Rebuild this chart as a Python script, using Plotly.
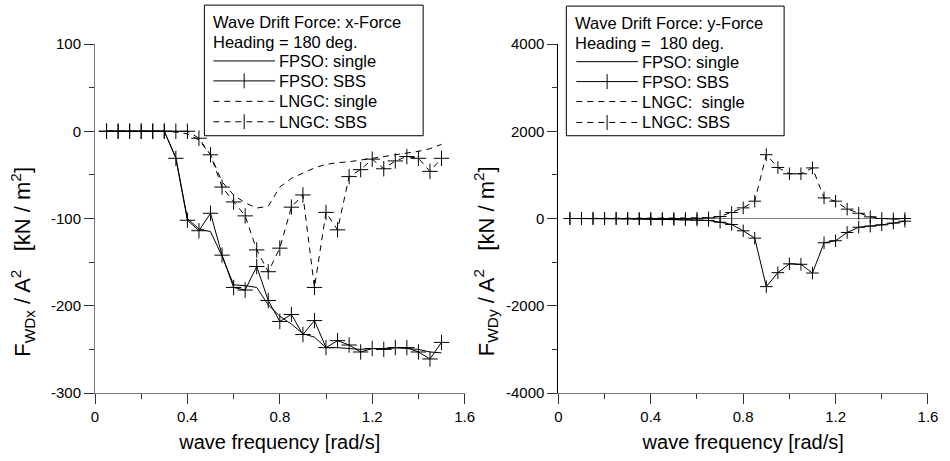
import plotly.graph_objects as go

# ---------------- data ----------------
freq = [0.05, 0.10, 0.15, 0.20, 0.25, 0.30, 0.35, 0.40, 0.45, 0.50,
        0.55, 0.60, 0.65, 0.70, 0.75, 0.80, 0.85, 0.90, 0.95, 1.00,
        1.05, 1.10, 1.15, 1.20, 1.25, 1.30, 1.35, 1.40, 1.45, 1.50]

# x-force [kN/m^2]
fx_fpso_single = [0, 0, 0, 0, 0, 0, -30, -100, -112, -115,
                  -143, -176, -177, -179, -199, -212, -221, -232, -236, -248,
                  -248, -249, -250, -249, -249, -248, -249, -250, -253, -254]
fx_fpso_sbs = [0, 0, 0, 0, 0, 0, -31, -102, -114, -94,
               -142, -179, -182, -155, -194, -218, -210, -233, -217, -248,
               -240, -245, -253, -249, -250, -248, -248, -253, -261, -242]
fx_lngc_single = [0, 0, 0, 0, 0, 0, -1, -3, -10, -27,
                  -58, -73, -82, -88, -86, -64, -54, -48, -42, -38,
                  -36, -35, -33, -31, -29, -27, -25, -23, -20, -15]
fx_lngc_sbs = [0, 0, 0, 0, 0, 0, 0, 0, -8, -27,
               -64, -81, -97, -136, -161, -134, -87, -73, -179, -93,
               -113, -52, -44, -32, -43, -34, -29, -31, -46, -31]

# y-force [kN/m^2]
fy_fpso_single = [0] * 30
fy_lngc_single = [0] * 30
fy_fpso_sbs = [0, 0, 0, 0, 0, -5, -10, -15, -20, -25,
               -30, -35, -45, -85, -137, -282, -450, -1562, -1242, -1040,
               -1050, -1250, -556, -510, -320, -200, -175, -145, -105, -61]
fy_lngc_sbs = [0, 0, 0, 0, 0, 0, 0, 0, 0, 0,
               0, 5, 15, 45, 137, 244, 397, 1463, 1170, 1025,
               1025, 1160, 472, 397, 215, 120, 38, 0, -10, 0]

x_tickvals = [0, 0.4, 0.8, 1.2, 1.6]
x_ticktext = ["0", "0.4", "0.8", "1.2", "1.6"]
yx_tickvals = [100, 0, -100, -200, -300]
yx_ticktext = ["100", "0", "-100", "-200", "-300"]
yy_tickvals = [4000, 2000, 0, -2000, -4000]
yy_ticktext = ["4000", "2000", "0", "-2000", "-4000"]

x_title = "wave frequency [rad/s]"
yx_title = "F<sub>WDx</sub> / A<sup>2</sup>&nbsp;&nbsp; [kN / m<sup>2</sup>]"
yy_title = "F<sub>WDy</sub> / A<sup>2</sup>&nbsp;&nbsp; [kN / m<sup>2</sup>]"

legend_titles_x = ["Wave Drift Force: x-Force", "Heading = 180 deg."]
legend_titles_y = ["Wave Drift Force: y-Force", "Heading =&nbsp; 180 deg."]
series_names_x = ["FPSO: single", "FPSO: SBS", "LNGC: single", "LNGC: SBS"]
series_names_y = ["FPSO: single", "FPSO: SBS", "LNGC:&nbsp; single", "LNGC: SBS"]

# ---------------- layout geometry ----------------
W_FIG, H_FIG = 950, 461
L, R, T, B = 95, 932.7, 44, 394
PW, PH = R - L, B - T
FONT = "Arial, Liberation Sans, sans-serif"
DASH = "6px,5px"


def pxx(px):
    return (px - L) / PW


def pyy(py):
    return (B - py) / PH


fig = go.Figure()

styles = [
    dict(dash="solid", markers=False),
    dict(dash="solid", markers=True),
    dict(dash=DASH, markers=False),
    dict(dash=DASH, markers=True),
]

left_series = [fx_fpso_single, fx_fpso_sbs, fx_lngc_single, fx_lngc_sbs]
right_series = [fy_fpso_single, fy_fpso_sbs, fy_lngc_single, fy_lngc_sbs]

for name, ys, st in zip(series_names_x, left_series, styles):
    fig.add_trace(go.Scatter(
        x=freq, y=ys, name=name, xaxis="x", yaxis="y",
        mode="lines+markers" if st["markers"] else "lines",
        line=dict(color="black", width=1, dash=st["dash"]),
        marker=dict(symbol="cross-thin", size=11, line=dict(color="black", width=1)),
        showlegend=False, hoverinfo="x+y"))

for name, ys, st in zip(series_names_y, right_series, styles):
    col = "black" if st["markers"] else "#808080"
    fig.add_trace(go.Scatter(
        x=freq, y=ys, name=name, xaxis="x2", yaxis="y2",
        mode="lines+markers" if st["markers"] else "lines",
        line=dict(color=col, width=1, dash=st["dash"] if st["markers"] else "solid"),
        marker=dict(symbol="cross-thin", size=9, line=dict(color="black", width=1)),
        showlegend=False, hoverinfo="x+y"))

tickfont = dict(family=FONT, size=15, color="black")
titlefont = dict(family=FONT, size=20, color="black")
ytitlefont = dict(family=FONT, size=22, color="black")

common_x = dict(range=[0, 1.6], tickvals=x_tickvals, ticktext=x_ticktext,
                ticks="outside", ticklen=10, tickwidth=1, tickcolor="#333",
                minor=dict(tickvals=[0.2, 0.6, 1.0, 1.4], ticks="outside", ticklen=5,
                           tickcolor="#333", tickwidth=1),
                showline=True, linewidth=1, showgrid=False, zeroline=False,
                tickfont=tickfont, fixedrange=True)

fig.update_layout(
    width=W_FIG, height=H_FIG,
    margin=dict(l=L, r=W_FIG - R, t=T, b=H_FIG - B),
    paper_bgcolor="white", plot_bgcolor="white",
    showlegend=False,
    xaxis=dict(domain=[0, (466.7 - L) / PW], anchor="y", linecolor="#777",
               title=dict(text=x_title, font=titlefont, standoff=10),
               **common_x),
    xaxis2=dict(domain=[(561 - L) / PW, 1], anchor="y2", linecolor="#777",
                title=dict(text=x_title, font=titlefont, standoff=10),
                **common_x),
    yaxis=dict(domain=[0, 1], anchor="x", range=[-300, 100],
               tickvals=yx_tickvals, ticktext=yx_ticktext,
               ticks="outside", ticklen=10, tickwidth=1, tickcolor="#333",
               minor=dict(tickvals=[50, -50, -150, -250], ticks="outside", ticklen=5,
                          tickcolor="#333", tickwidth=1),
               showline=True, linewidth=1, linecolor="#777", showgrid=False, zeroline=False,
               tickfont=tickfont, fixedrange=True),
    yaxis2=dict(domain=[0, 1], anchor="x2", range=[-4000, 4000],
                tickvals=yy_tickvals, ticktext=yy_ticktext,
                ticks="outside", ticklen=10, tickwidth=1, tickcolor="#333",
                minor=dict(tickvals=[3000, 1000, -1000, -3000], ticks="outside", ticklen=5,
                           tickcolor="#333", tickwidth=1),
                showline=True, linewidth=1, linecolor="black", showgrid=False, zeroline=False,
                tickfont=tickfont, fixedrange=True),
)

# y axis titles (placed slightly below the axis centre, as in the reference)
for txt, cx in [(yx_title, 22), (yy_title, 488)]:
    fig.add_annotation(xref="paper", yref="paper", x=pxx(cx), y=pyy(262),
                       text=txt, textangle=-90, showarrow=False,
                       xanchor="center", yanchor="middle", font=ytitlefont)

# ---------------- legends (boxes) ----------------
legfont = dict(family=FONT, size=16.5, color="black")
legend_specs = [
    dict(box=(205, 5, 425, 136), title_x=214, title_y=[21.7, 41.7],
         sample=(214, 276), text_x=280, rows=[61, 81, 101.5, 122],
         titles=legend_titles_x, names=series_names_x),
    dict(box=(569, 6, 788, 136), title_x=578, title_y=[23, 43],
         sample=(579, 641), text_x=645, rows=[61.7, 81.7, 101.7, 122.7],
         titles=legend_titles_y, names=series_names_y),
]

for spec in legend_specs:
    x0, y0, x1, y1 = spec["box"]
    fig.add_shape(type="rect", xref="paper", yref="paper",
                  x0=pxx(x0), x1=pxx(x1), y0=pyy(y0), y1=pyy(y1),
                  line=dict(color="black", width=1), fillcolor="white", layer="above")
    for txt, ty in zip(spec["titles"], spec["title_y"]):
        fig.add_annotation(xref="paper", yref="paper", x=pxx(spec["title_x"] - 2), y=pyy(ty),
                           text=txt, showarrow=False, xanchor="left", yanchor="middle",
                           font=legfont)
    sx0, sx1 = spec["sample"]
    for name, ry, st in zip(spec["names"], spec["rows"], styles):
        fig.add_shape(type="line", xref="paper", yref="paper",
                      x0=pxx(sx0), x1=pxx(sx1), y0=pyy(ry), y1=pyy(ry),
                      line=dict(color="black", width=1, dash=st["dash"]), layer="above")
        if st["markers"]:
            cx = (sx0 + sx1) / 2
            fig.add_shape(type="line", xref="paper", yref="paper",
                          x0=pxx(cx), x1=pxx(cx), y0=pyy(ry - 7.5), y1=pyy(ry + 7.5),
                          line=dict(color="black", width=1), layer="above")
        fig.add_annotation(xref="paper", yref="paper", x=pxx(spec["text_x"] - 2), y=pyy(ry),
                           text=name, showarrow=False, xanchor="left", yanchor="middle",
                           font=legfont)

fig.write_html("out.html")
